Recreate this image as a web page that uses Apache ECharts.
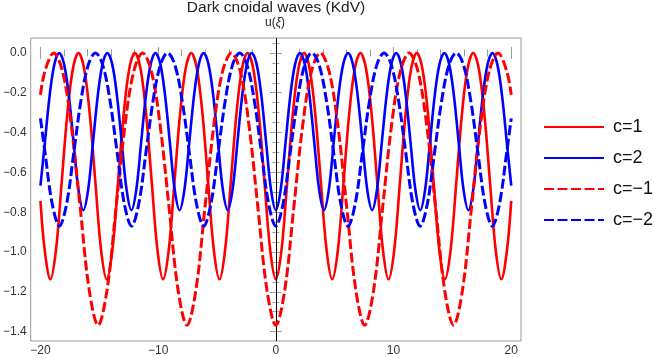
<!DOCTYPE html>
<html><head><meta charset="utf-8">
<script src="https://cdn.jsdelivr.net/npm/echarts@6/dist/echarts.min.js"></script>
<style>html,body{margin:0;padding:0;background:#fff}#c{width:654px;height:358px}</style>
</head><body><div id="c"></div>
<script>
const titleText = 'Dark cnoidal waves (KdV)';
const seriesNames = ['c=1', 'c=2', 'c=\u22121', 'c=\u22122'];
const xMajorTicks = [-20, -10, 0, 10, 20];
const xMinorTicks = [-18, -16, -14, -12, -8, -6, -4, -2, 2, 4, 6, 8, 12, 14, 16, 18];
const yMajorTicks = [-1.4, -1.2, -1.0, -0.8, -0.6, -0.4, -0.2, 0];
const yMinorTicks = [-1.35, -1.3, -1.25, -1.15, -1.1, -1.05, -0.95, -0.9, -0.85, -0.75, -0.7, -0.65, -0.55, -0.5, -0.45, -0.35, -0.3, -0.25, -0.15, -0.1, -0.05, 0.05];

const c1 = [
[-20,-0.743],[-19.64,-0.990],[-19.16,-1.137],[-18.68,-0.990],[-18.20,-0.653],[-17.72,-0.308],[-17.24,-0.078],[-16.77,0],[-16.29,-0.078],[-15.81,-0.308],[-15.33,-0.653],[-14.85,-0.990],[-14.37,-1.137],[-13.89,-0.990],[-13.41,-0.653],[-12.93,-0.308],[-12.45,-0.078],[-11.98,0],[-11.50,-0.078],[-11.02,-0.308],[-10.54,-0.653],[-10.06,-0.990],[-9.58,-1.137],[-9.10,-0.990],[-8.62,-0.653],[-8.14,-0.308],[-7.66,-0.078],[-7.19,0],[-6.71,-0.078],[-6.23,-0.308],[-5.75,-0.653],[-5.27,-0.990],[-4.79,-1.137],[-4.31,-0.990],[-3.83,-0.653],[-3.35,-0.308],[-2.87,-0.078],[-2.40,0],[-1.92,-0.078],[-1.44,-0.308],[-0.96,-0.653],[-0.48,-0.990],[0,-1.137],
[0.48,-0.990],[0.96,-0.653],[1.44,-0.308],[1.92,-0.078],[2.40,0],[2.87,-0.078],[3.35,-0.308],[3.83,-0.653],[4.31,-0.990],[4.79,-1.137],[5.27,-0.990],[5.75,-0.653],[6.23,-0.308],[6.71,-0.078],[7.19,0],[7.66,-0.078],[8.14,-0.308],[8.62,-0.653],[9.10,-0.990],[9.58,-1.137],[10.06,-0.990],[10.54,-0.653],[11.02,-0.308],[11.50,-0.078],[11.98,0],[12.45,-0.078],[12.93,-0.308],[13.41,-0.653],[13.89,-0.990],[14.37,-1.137],[14.85,-0.990],[15.33,-0.653],[15.81,-0.308],[16.29,-0.078],[16.77,0],[17.24,-0.078],[17.72,-0.308],[18.20,-0.653],[18.68,-0.990],[19.16,-1.137],[19.64,-0.990],[20,-0.743]
];

const c2 = [
[-20,-0.666],[-19.63,-0.453],[-19.22,-0.214],[-18.81,-0.055],[-18.41,0],[-18.00,-0.055],[-17.59,-0.214],[-17.18,-0.453],[-16.77,-0.688],[-16.36,-0.790],[-15.95,-0.688],[-15.54,-0.453],[-15.13,-0.214],[-14.72,-0.055],[-14.32,0],[-13.91,-0.055],[-13.50,-0.214],[-13.09,-0.453],[-12.68,-0.688],[-12.27,-0.790],[-11.86,-0.688],[-11.45,-0.453],[-11.04,-0.214],[-10.63,-0.055],[-10.23,0],[-9.82,-0.055],[-9.41,-0.214],[-9.00,-0.453],[-8.59,-0.688],[-8.18,-0.790],[-7.77,-0.688],[-7.36,-0.453],[-6.95,-0.214],[-6.54,-0.055],[-6.14,0],[-5.73,-0.055],[-5.32,-0.214],[-4.91,-0.453],[-4.50,-0.688],[-4.09,-0.790],[-3.68,-0.688],[-3.27,-0.453],[-2.86,-0.214],[-2.45,-0.055],[-2.05,0],[-1.64,-0.055],[-1.23,-0.214],[-0.82,-0.453],[-0.41,-0.688],[0,-0.790],
[0.41,-0.688],[0.82,-0.453],[1.23,-0.214],[1.64,-0.055],[2.05,0],[2.45,-0.055],[2.86,-0.214],[3.27,-0.453],[3.68,-0.688],[4.09,-0.790],[4.50,-0.688],[4.91,-0.453],[5.32,-0.214],[5.73,-0.055],[6.14,0],[6.54,-0.055],[6.95,-0.214],[7.36,-0.453],[7.77,-0.688],[8.18,-0.790],[8.59,-0.688],[9.00,-0.453],[9.41,-0.214],[9.82,-0.055],[10.23,0],[10.63,-0.055],[11.04,-0.214],[11.45,-0.453],[11.86,-0.688],[12.27,-0.790],[12.68,-0.688],[13.09,-0.453],[13.50,-0.214],[13.91,-0.055],[14.32,0],[14.72,-0.055],[15.13,-0.214],[15.54,-0.453],[15.95,-0.688],[16.36,-0.790],[16.77,-0.688],[17.18,-0.453],[17.59,-0.214],[18.00,-0.055],[18.41,0],[18.81,-0.055],[19.22,-0.214],[19.63,-0.453],[20,-0.666]
];

const c3 = [
[-20,-0.211],[-19.63,-0.094],[-18.875,0],[-18.12,-0.094],[-17.365,-0.371],[-16.61,-0.785],[-15.855,-1.192],[-15.10,-1.368],[-14.345,-1.192],[-13.59,-0.785],[-12.835,-0.371],[-12.08,-0.094],[-11.325,0],[-10.57,-0.094],[-9.815,-0.371],[-9.06,-0.785],[-8.305,-1.192],[-7.55,-1.368],[-6.795,-1.192],[-6.04,-0.785],[-5.285,-0.371],[-4.53,-0.094],[-3.775,0],[-3.02,-0.094],[-2.265,-0.371],[-1.51,-0.785],[-0.755,-1.192],[0,-1.368],
[0.755,-1.192],[1.51,-0.785],[2.265,-0.371],[3.02,-0.094],[3.775,0],[4.53,-0.094],[5.285,-0.371],[6.04,-0.785],[6.795,-1.192],[7.55,-1.368],[8.305,-1.192],[9.06,-0.785],[9.815,-0.371],[10.57,-0.094],[11.325,0],[12.08,-0.094],[12.835,-0.371],[13.59,-0.785],[14.345,-1.192],[15.10,-1.368],[15.855,-1.192],[16.61,-0.785],[17.365,-0.371],[18.12,-0.094],[18.875,0],[19.63,-0.094],[20,-0.211]
];

const c4 = [
[-20,-0.329],[-19.616,-0.499],[-19.003,-0.758],[-18.39,-0.870],[-17.777,-0.758],[-17.164,-0.499],[-16.551,-0.236],[-15.938,-0.060],[-15.325,0],[-14.712,-0.060],[-14.099,-0.236],[-13.486,-0.499],[-12.873,-0.758],[-12.26,-0.870],[-11.647,-0.758],[-11.034,-0.499],[-10.421,-0.236],[-9.808,-0.060],[-9.195,0],[-8.582,-0.060],[-7.969,-0.236],[-7.356,-0.499],[-6.743,-0.758],[-6.13,-0.870],[-5.517,-0.758],[-4.904,-0.499],[-4.291,-0.236],[-3.678,-0.060],[-3.065,0],[-2.452,-0.060],[-1.839,-0.236],[-1.226,-0.499],[-0.613,-0.758],[0,-0.870],
[0.613,-0.758],[1.226,-0.499],[1.839,-0.236],[2.452,-0.060],[3.065,0],[3.678,-0.060],[4.291,-0.236],[4.904,-0.499],[5.517,-0.758],[6.13,-0.870],[6.743,-0.758],[7.356,-0.499],[7.969,-0.236],[8.582,-0.060],[9.195,0],[9.808,-0.060],[10.421,-0.236],[11.034,-0.499],[11.647,-0.758],[12.26,-0.870],[12.873,-0.758],[13.486,-0.499],[14.099,-0.236],[14.712,-0.060],[15.325,0],[15.938,-0.060],[16.551,-0.236],[17.164,-0.499],[17.777,-0.758],[18.39,-0.870],[19.003,-0.758],[19.616,-0.499],[20,-0.329]
];

const FRAME = '#9a9a9a';
const LABEL = '#333';
const FONT = '"Liberation Sans", Arial, sans-serif';
const X_MIN = -20.83, X_MAX = 20.83, Y_MIN = -1.447, Y_MAX = 0.075;
const fmtMinus = s => s.replace('-', '\u2212');

function xAx(pos, ticks, len, labels) {
  return {
    type: 'value', gridIndex: 0, position: pos, min: X_MIN, max: X_MAX,
    axisLine: {show: false}, splitLine: {show: false},
    axisTick: {show: true, inside: true, length: len, customValues: ticks, lineStyle: {color: FRAME, width: 1}},
    axisLabel: labels ? {show: true, customValues: ticks, margin: 4, fontSize: 12, color: LABEL, fontFamily: FONT,
      formatter: v => fmtMinus(String(Math.round(v)))} : {show: false}
  };
}
function yAx(pos, ticks, len, labels) {
  return {
    type: 'value', gridIndex: 0, position: pos, min: Y_MIN, max: Y_MAX,
    axisLine: {show: false}, splitLine: {show: false},
    axisTick: {show: true, inside: true, length: len, customValues: ticks, lineStyle: {color: FRAME, width: 1}},
    axisLabel: labels ? {show: true, customValues: ticks, margin: 4, fontSize: 12, color: LABEL, fontFamily: FONT,
      formatter: v => fmtMinus(Number(v).toFixed(1))} : {show: false}
  };
}

const datasets = [c1, c2, c3, c4];
const colors = ['#ff0000', '#0000ff', '#ff0000', '#0000ff'];
const dashed = [false, false, true, true];

const series = datasets.map((d, i) => ({
  name: seriesNames[i], type: 'line', data: d, xAxisIndex: 0, yAxisIndex: 0,
  smooth: 0.35, symbol: 'circle', showSymbol: false, clip: true,
  lineStyle: {color: colors[i], width: dashed[i] ? 3 : 2.6, type: dashed[i] ? [10, 3.5] : 'solid'},
  itemStyle: {color: colors[i]},
  z: 3 + i
}));
series[0].markLine = {
  silent: true, symbol: ['none', 'none'], label: {show: false}, animation: false,
  lineStyle: {color: '#000', width: 1, type: 'solid'},
  data: [{xAxis: 0}]
};

const chart = echarts.init(document.getElementById('c'), null, {renderer: 'canvas'});
chart.setOption({
  animation: false,
  backgroundColor: '#fff',
  grid: {left: 30, top: 38, width: 491, height: 303, show: true, borderColor: FRAME, borderWidth: 1, backgroundColor: 'transparent'},
  xAxis: [
    xAx('bottom', xMajorTicks, 6, true),
    xAx('bottom', xMinorTicks, 3.5, false),
    xAx('top', xMajorTicks, 6, false),
    xAx('top', xMinorTicks, 3.5, false)
  ],
  yAxis: [
    yAx('left', yMajorTicks, 6, true),
    yAx('left', yMinorTicks, 3.5, false),
    yAx('right', yMajorTicks, 6, false),
    yAx('right', yMinorTicks, 3.5, false)
  ],
  legend: {
    orient: 'vertical', left: 538, top: 113, itemWidth: 60, itemHeight: 14, itemGap: 13,
    data: seriesNames,
    itemStyle: {opacity: 0},
    textStyle: {fontSize: 18, lineHeight: 18, color: '#111', fontFamily: FONT, padding: [0, 0, 0, 4]}
  },
  graphic: [
    {type: 'text', x: 276, y: 8, style: {text: titleText, fontSize: 15.5, fontFamily: FONT, fill: '#222', textAlign: 'center', textVerticalAlign: 'middle'}},
    {type: 'text', x: 275, y: 23, style: {text: 'u({i|\u03BE})', fontSize: 12, fontFamily: FONT, fill: '#222', textAlign: 'center', textVerticalAlign: 'middle',
      rich: {i: {fontStyle: 'italic', fontSize: 12, fontFamily: FONT, fill: '#222'}}}}
  ],
  series: series
});
</script>
</body></html>
